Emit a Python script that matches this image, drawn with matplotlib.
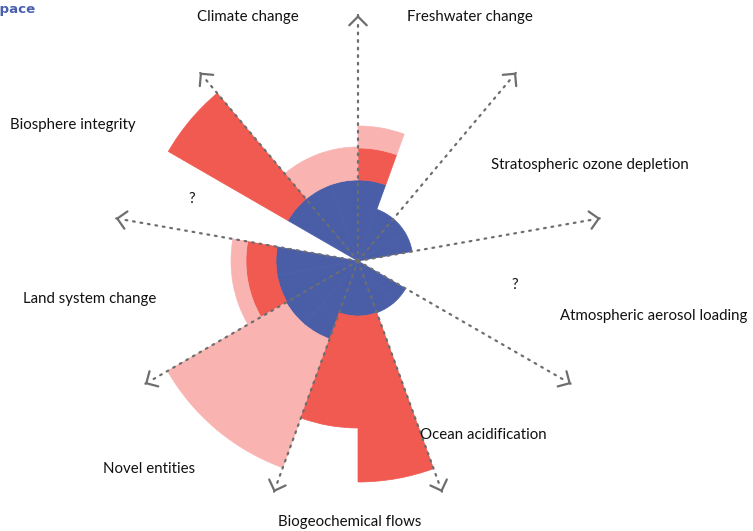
import numpy as np
import matplotlib
matplotlib.use("Agg")
import matplotlib.pyplot as plt

plt.rcParams["font.family"] = ["Lato", "DejaVu Sans"]

# 20-degree sub-segments, start angle (deg, counter-clockwise from east)
seg_start = [10, 30, 50, 70, 90, 110, 130, 150, 170, 190, 210, 230, 250, 270, 290, 310, 330, 350]
# outer radius of each colour band (0 = band absent)
blue_outer = [55, 55, 55, 81, 81, 81, 81, 0, 82, 82, 83, 83, 55, 55, 55, 55, 0, 0]
red_outer = [0, 0, 0, 113, 0, 0, 219, 0, 112, 112, 0, 0, 167, 221, 0, 0, 0, 0]
pink_outer = [0, 0, 0, 135, 114, 114, 0, 0, 127, 127, 220, 220, 0, 0, 0, 0, 0, 0]

axis_angles = [90, 50, 10, -30, -70, -110, -150, 170, 130]
axis_length = 244

labels = ["Climate change", "Freshwater change", "Stratospheric ozone depletion",
          "Atmospheric aerosol loading", "Ocean acidification", "Biogeochemical flows",
          "Novel entities", "Land system change", "Biosphere integrity"]
label_xy = [(197, 17), (407, 17), (491, 165), (560, 316), (420, 435),
            (278, 522), (103, 469), (23, 299), (10, 125)]
unknown_xy = [(192, 199), (515, 285)]

BLUE = "#4a5ea8"
RED = "#f05a50"
PINK = "#f9b4b2"
GREY = "#6e6e6e"

W, H = 753, 531
cx, cy = 358, 261
R = 260

fig = plt.figure(figsize=(W / 100, H / 100), dpi=100)
ax = fig.add_axes([(cx - R) / W, (H - cy - R) / H, 2 * R / W, 2 * R / H], projection="polar")
ax.set_ylim(0, R)
ax.axis("off")

theta = np.deg2rad(np.array(seg_start) + 10)
width = np.deg2rad(20)
blue = np.array(blue_outer)
red = np.array(red_outer)
pink = np.array(pink_outer)

for t, b, r, p in zip(theta, blue, red, pink):
    if b > 0:
        ax.bar(t, b, width=width, bottom=0, color=BLUE, edgecolor=BLUE, lw=0.5, align="center")
    if r > 0:
        ax.bar(t, r - b, width=width, bottom=b, color=RED, edgecolor=RED, lw=0.5, align="center")
    if p > 0:
        base = max(b, r)
        ax.bar(t, p - base, width=width, bottom=base, color=PINK, edgecolor=PINK, lw=0.5, align="center")

# dotted axes with open arrowheads
for a in axis_angles:
    t = np.deg2rad(a)
    ax.plot([t, t], [0, axis_length - 4], color=GREY, lw=1.6, ls=(0, (0.8, 2.6)),
            dash_capstyle="round", zorder=5)
    ax.annotate("", xy=(t, axis_length + 2), xytext=(t, axis_length + 1.5),
                arrowprops=dict(arrowstyle="->,head_length=0.45,head_width=0.45",
                                color=GREY, lw=1.6, mutation_scale=14), zorder=6)

for text, (x, y) in zip(labels, label_xy):
    fig.text(x / W, 1 - y / H, text, ha="left", va="center", fontsize=10.8, color="#111111")

for x, y in unknown_xy:
    fig.text(x / W, 1 - y / H, "?", ha="center", va="center", fontsize=10.8, color="#111111")

# title is cropped at the left edge in the source image
fig.text(35 / W, 1 - 10 / H, "Safe operating space", ha="right", va="center",
         fontsize=9.6, fontweight="bold", color="#4a5fb0", family="DejaVu Sans")

fig.savefig("out.png", dpi=100)
